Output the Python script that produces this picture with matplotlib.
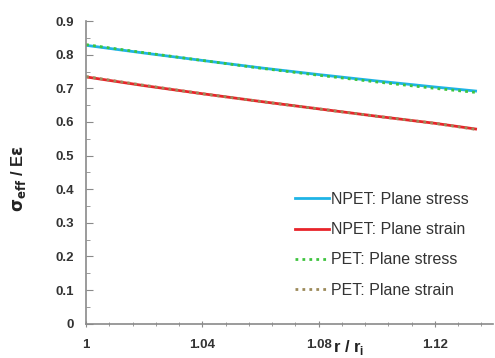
import matplotlib
matplotlib.use("Agg")
import matplotlib.pyplot as plt
from matplotlib.ticker import MultipleLocator

plt.rcParams["font.family"] = ["Liberation Sans", "DejaVu Sans"]

r = [1.0, 1.02, 1.04, 1.06, 1.08, 1.10, 1.12, 1.134]
npet_stress = [0.828, 0.805, 0.783, 0.761, 0.741, 0.722, 0.704, 0.692]
npet_strain = [0.734, 0.708, 0.684, 0.661, 0.639, 0.617, 0.596, 0.579]
pet_stress = [0.830, 0.806, 0.783, 0.760, 0.739, 0.719, 0.700, 0.688]
pet_strain = [0.735, 0.709, 0.684, 0.661, 0.639, 0.617, 0.596, 0.578]

fig = plt.figure(figsize=(4.95, 3.58), dpi=100)
ax = fig.add_axes([0.174, 0.096, 0.822, 0.845])

ax.plot(r, npet_stress, color="#1fb4e6", lw=2, label="NPET: Plane stress")
ax.plot(r, npet_strain, color="#e8242a", lw=2, label="NPET: Plane strain")
ax.plot(r, pet_stress, color="#3ec43e", lw=2, ls=(0, (1, 1.5)), label="PET: Plane stress")
ax.plot(r, pet_strain, color="#9c8a5a", lw=2, ls=(0, (1, 1.5)), label="PET: Plane strain")

ax.set_xlim(1, 1.14)
ax.set_ylim(0, 0.9)
ax.xaxis.set_major_locator(MultipleLocator(0.04))
ax.xaxis.set_minor_locator(MultipleLocator(0.008))
ax.yaxis.set_major_locator(MultipleLocator(0.1))
ax.yaxis.set_minor_locator(MultipleLocator(0.05))
ax.xaxis.set_major_formatter(plt.FuncFormatter(lambda v, p: "1" if abs(v - 1) < 1e-9 else f"{v:.2f}"))
ax.yaxis.set_major_formatter(plt.FuncFormatter(lambda v, p: "0" if v == 0 else f"{v:.1f}"))

for s in ["top", "right"]:
    ax.spines[s].set_visible(False)
for s in ["left", "bottom"]:
    ax.spines[s].set_color("#8a8a8a")
    ax.spines[s].set_linewidth(1.2)

ax.tick_params(axis="y", which="major", direction="in", length=5, color="#8a8a8a", pad=9,
               labelsize=9.5, labelcolor="#333333")
ax.tick_params(axis="y", which="minor", direction="in", length=3, color="#8a8a8a")
ax.tick_params(axis="x", which="major", direction="inout", length=4, color="#8a8a8a", pad=9,
               labelsize=9.5, labelcolor="#333333")
ax.tick_params(axis="x", which="minor", direction="inout", length=3, color="#8a8a8a")
for lab in ax.get_xticklabels() + ax.get_yticklabels():
    lab.set_fontweight("bold")

fig.text(0.038, 0.50, r"$\mathbf{\sigma_{eff}}$ / E$\mathbf{\varepsilon}$", rotation=90,
         ha="center", va="center", fontsize=12, fontweight="bold", color="#222222")
fig.text(0.705, 0.003, r"r / r$_\mathregular{i}$", ha="center", va="bottom",
         fontsize=12, fontweight="bold", color="#222222")

leg = ax.legend(loc="lower right", bbox_to_anchor=(0.955, 0.065), frameon=False, fontsize=11.5,
                handlelength=2.1, handletextpad=0.1, labelspacing=0.95, borderaxespad=0)
for t in leg.get_texts():
    t.set_color("#333333")

fig.savefig("out.png", dpi=100, facecolor="white")
